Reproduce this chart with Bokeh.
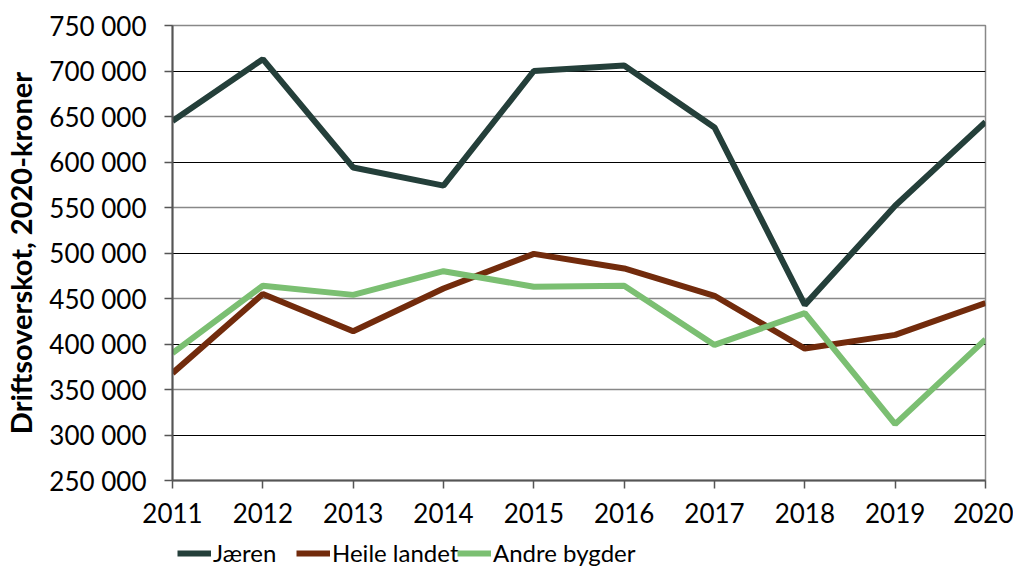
from bokeh.plotting import figure
from bokeh.models import FixedTicker, Grid, Legend, LegendItem
from bokeh.layouts import column
from bokeh.embed import file_html
from bokeh.resources import INLINE

years = [2011, 2012, 2013, 2014, 2015, 2016, 2017, 2018, 2019, 2020]
jaeren = [645000, 713000, 594000, 574000, 700000, 706000, 638000, 443000, 552000, 644000]
heile_landet = [368000, 455000, 414000, 461000, 499000, 483000, 453000, 395000, 410000, 445000]
andre_bygder = [390000, 464000, 454000, 480000, 463000, 464000, 399000, 434000, 312000, 405000]
y_ticks = [250000, 300000, 350000, 400000, 450000, 500000, 550000, 600000, 650000, 700000, 750000]
y_tick_labels = ["250 000", "300 000", "350 000", "400 000", "450 000", "500 000",
                 "550 000", "600 000", "650 000", "700 000", "750 000"]
series_names = ["Jæren", "Heile landet", "Andre bygder"]
colors = ["#243F3A", "#722B0C", "#7BBF72"]

FONT = "Lato"

p = figure(frame_width=813, frame_height=455, output_backend="svg", toolbar_location=None,
           x_range=(2011, 2020), y_range=(250000, 750000),
           min_border_left=172, min_border_right=28, min_border_top=25,
           min_border_bottom=58)
p.outline_line_color = "#888888"
p.outline_line_width = 1.5

p.xgrid.visible = False
p.ygrid.visible = False
g1 = Grid(dimension=1, ticker=FixedTicker(ticks=[300000, 400000, 500000, 600000, 700000]),
          grid_line_color="#000000", grid_line_width=1)
g2 = Grid(dimension=1, ticker=FixedTicker(ticks=[350000, 450000, 550000, 650000]),
          grid_line_color="#888888", grid_line_width=1.5)
p.add_layout(g1)
p.add_layout(g2)

p.yaxis.ticker = FixedTicker(ticks=y_ticks)
p.yaxis.major_label_overrides = {t: l for t, l in zip(y_ticks, y_tick_labels)}
p.xaxis.ticker = FixedTicker(ticks=years)
for ax in (p.xaxis, p.yaxis):
    ax.axis_line_color = "#555555"
    ax.axis_line_width = 2
    ax.major_tick_line_color = "#555555"
    ax.major_tick_line_width = 1.5
    ax.major_tick_in = 0
    ax.major_tick_out = 8
    ax.minor_tick_line_color = None
    ax.major_label_text_font = FONT
    ax.major_label_text_font_size = "26px"
    ax.major_label_text_color = "#000000"
p.yaxis.major_label_standoff = 18
p.xaxis.major_label_standoff = 14
p.yaxis.axis_label = "Driftsoverskot, 2020-kroner"
p.yaxis.axis_label_text_font = FONT
p.yaxis.axis_label_text_font_style = "bold"
p.yaxis.axis_label_text_font_size = "29px"
p.yaxis.axis_label_text_color = "#000000"
p.yaxis.axis_label_standoff = 8

for vals, c in zip([jaeren, heile_landet, andre_bygder], colors):
    p.line(years, vals, line_color=c, line_width=6)

# legend strip below the chart (its frame is aligned with the chart frame)
p2 = figure(width=1013, height=31, output_backend="svg", toolbar_location=None,
            x_range=(2011, 2020), y_range=(0, 1), min_border=0,
            min_border_left=0, min_border_right=0, min_border_top=0, min_border_bottom=0)
p2.axis.visible = False
p2.grid.visible = False
p2.outline_line_color = None

legend_x = [5, 124, 285]
for name, vals, c, lx in zip(series_names, [jaeren, heile_landet, andre_bygder], colors, legend_x):
    r = p2.line(years, vals, line_color=c, line_width=6)  # out of view; only feeds the legend
    lg = Legend(items=[LegendItem(label=name, renderers=[r])], location=(lx, 2),
                label_text_font=FONT, label_text_font_size="24px",
                label_text_color="#000000",
                label_text_line_height=1.0, label_height=22,
                glyph_width=34, glyph_height=22, label_standoff=2,
                padding=0, margin=0, border_line_color=None,
                background_fill_alpha=0)
    p2.add_layout(lg)

layout = column(p, p2, spacing=0)
open("out.html", "w").write(file_html(layout, INLINE))
